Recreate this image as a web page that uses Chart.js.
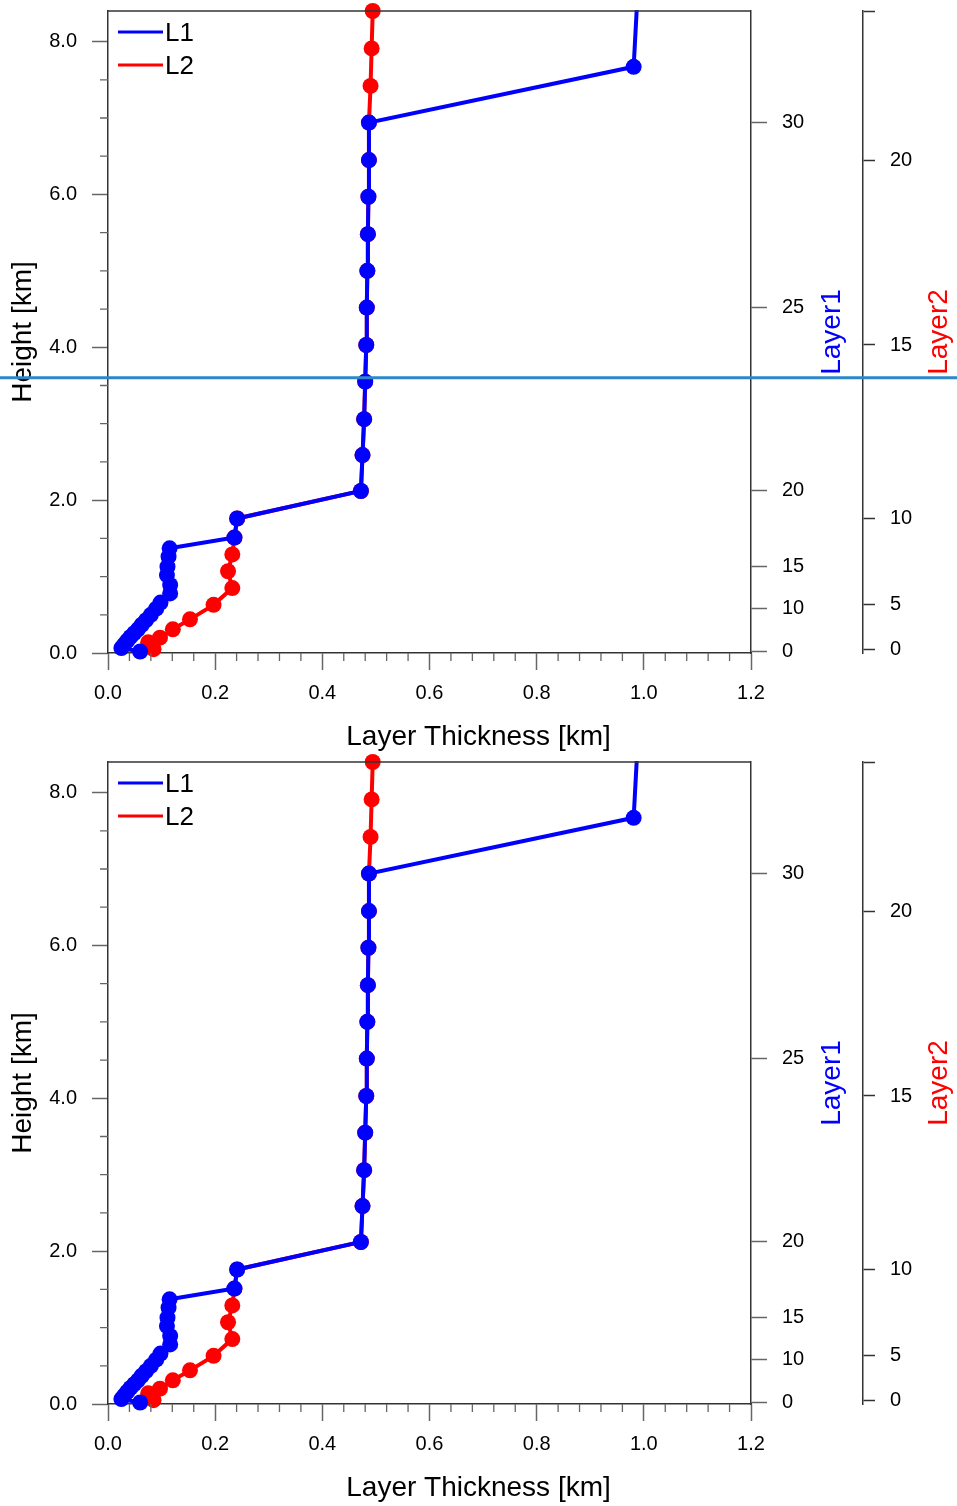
<!DOCTYPE html>
<html>
<head>
<meta charset="utf-8">
<title>Layer thickness profiles</title>
<script src="https://cdn.jsdelivr.net/npm/chart.js@4.4.1/dist/chart.umd.min.js"></script>
<style>
  body { margin: 0; background: #fff; }
  canvas { display: block; }
</style>
</head>
<body>
<canvas id="panelTop" width="957" height="751"></canvas>
<canvas id="panelBottom" width="957" height="751"></canvas>
<script>
// L1: thickness [km] and height [km] of each level, from the surface up
const thick1 = [0.060, 0.025, 0.030, 0.036, 0.042, 0.049, 0.056, 0.063, 0.071, 0.080,
                0.090, 0.098, 0.116, 0.116, 0.110, 0.111, 0.113, 0.115, 0.236, 0.241,
                0.472, 0.475, 0.478, 0.480, 0.482, 0.483, 0.484, 0.485, 0.486, 0.487,
                0.487, 0.981, 0.995];
const height1 = [0.02, 0.065, 0.11, 0.16, 0.21, 0.26, 0.31, 0.37, 0.43, 0.50,
                 0.58, 0.66, 0.78, 0.89, 1.02, 1.13, 1.26, 1.37, 1.51, 1.76,
                 2.12, 2.59, 3.06, 3.55, 4.03, 4.52, 5.00, 5.48, 5.97, 6.45,
                 6.94, 7.67, 9.50];

// L2
const thick2 = [0.085, 0.075, 0.097, 0.121, 0.153, 0.197, 0.232, 0.224, 0.232, 0.236,
                0.241, 0.472, 0.475, 0.478, 0.480, 0.482, 0.483, 0.484, 0.485, 0.486,
                0.487, 0.487, 0.490, 0.492, 0.494];
const height2 = [0.05, 0.14, 0.20, 0.31, 0.44, 0.63, 0.85, 1.07, 1.29, 1.51,
                 1.76, 2.12, 2.59, 3.06, 3.55, 4.03, 4.52, 5.00, 5.48, 5.97,
                 6.45, 6.94, 7.42, 7.91, 8.40];

const thickTicks = [0, 0.2, 0.4, 0.6, 0.8, 1.0, 1.2];
const heightTicks = [0, 2, 4, 6, 8];
const layer1Levels = [0, 10, 15, 20, 25, 30];
const layer2Levels = [0, 5, 10, 15, 20];
const markHeight = [3.6]; // horizontal marker, upper panel only

const FONT = "'Liberation Sans', Arial, Helvetica, sans-serif";
const AXIS = '#333';
const TICK = '#666';

Chart.defaults.font.family = FONT;
Chart.defaults.color = '#000';

const toPoints = (xs, ys) => xs.map((v, i) => ({ x: v, y: ys[i] }));

// fixed box sizes so every panel gets the same plot area; no label overhang padding
const fixWidth = w => s => {
  s.width = w;
  s.paddingTop = 0; s.paddingBottom = 0; s.paddingLeft = 0; s.paddingRight = 0;
};
const fixHeight = h => s => {
  s.height = h;
  s.paddingTop = 0; s.paddingBottom = 0; s.paddingLeft = 0; s.paddingRight = 0;
};

// frame top, minor ticks, legend, layer titles and the marker line
const extras = {
  id: 'extras',
  afterDraw(chart, args, opts) {
    const ctx = chart.ctx;
    const a = chart.chartArea;
    const sx = chart.scales.x, sy = chart.scales.y;
    ctx.save();

    ctx.strokeStyle = AXIS;
    ctx.lineWidth = 1.5;
    ctx.beginPath();
    ctx.moveTo(a.left, a.top);
    ctx.lineTo(a.right, a.top);
    ctx.stroke();

    ctx.strokeStyle = TICK;
    ctx.lineWidth = 1.3;
    ctx.beginPath();
    for (let i = 1; i < 30; i++) {
      if (i % 5 === 0) continue;
      const px = sx.getPixelForValue(i * 0.04);
      ctx.moveTo(px, a.bottom);
      ctx.lineTo(px, a.bottom + 8);
    }
    for (let i = 1; i * 0.5 <= sy.max; i++) {
      if (i % 4 === 0) continue;
      const py = sy.getPixelForValue(i * 0.5);
      ctx.moveTo(a.left, py);
      ctx.lineTo(a.left - 8, py);
    }
    ctx.stroke();

    // legend
    ctx.font = '26px ' + FONT;
    ctx.textAlign = 'left';
    ctx.textBaseline = 'middle';
    chart.data.datasets.forEach((ds, i) => {
      const ly = a.top + 21 + i * 33;
      ctx.strokeStyle = ds.borderColor;
      ctx.lineWidth = 3;
      ctx.beginPath();
      ctx.moveTo(a.left + 10, ly);
      ctx.lineTo(a.left + 55, ly);
      ctx.stroke();
      ctx.fillStyle = '#000';
      ctx.fillText(ds.label, a.left + 57, ly + 2);
    });

    // titles of the two level axes, reading upwards
    const cy = (a.top + a.bottom) / 2;
    const vTitle = (text, color, cx) => {
      ctx.save();
      ctx.translate(cx, cy);
      ctx.rotate(-Math.PI / 2);
      ctx.font = '28px ' + FONT;
      ctx.textAlign = 'center';
      ctx.textBaseline = 'middle';
      ctx.fillStyle = color;
      ctx.fillText(text, 0, 0);
      ctx.restore();
    };
    vTitle('Layer1', '#0000ff', chart.scales.layer1.right - 31);
    vTitle('Layer2', '#ff0000', chart.scales.layer2.right - 18);

    if (opts.marks) {
      ctx.strokeStyle = '#2d87c8';
      ctx.lineWidth = 3;
      opts.marks.forEach(h => {
        const py = sy.getPixelForValue(h);
        ctx.beginPath();
        ctx.moveTo(0, py);
        ctx.lineTo(chart.width, py);
        ctx.stroke();
      });
    }
    ctx.restore();
  }
};

function makeChart(id, marks) {
  const tickFont = { size: 20 };
  return new Chart(document.getElementById(id), {
    type: 'scatter',
    data: {
      datasets: [
        {
          label: 'L1',
          data: toPoints(thick1, height1),
          showLine: true,
          borderColor: '#0000ff',
          backgroundColor: '#0000ff',
          borderWidth: 4,
          pointRadius: 8,
          pointBorderWidth: 0,
          clip: { left: 10, right: 10, top: 1, bottom: 10 }
        },
        {
          label: 'L2',
          data: toPoints(thick2, height2),
          showLine: true,
          borderColor: '#ff0000',
          backgroundColor: '#ff0000',
          borderWidth: 4,
          pointRadius: 8,
          pointBorderWidth: 0,
          clip: false
        }
      ]
    },
    options: {
      responsive: false,
      animation: false,
      events: [],
      layout: { padding: { top: 11, left: 0, right: 0, bottom: 0 } },
      plugins: {
        legend: { display: false },
        tooltip: { enabled: false },
        title: {
          display: true,
          text: 'Layer Thickness [km]',
          position: 'bottom',
          color: '#000',
          font: { size: 28, weight: 'normal', lineHeight: 1 },
          padding: { top: 0, bottom: 0 }
        },
        extras: { marks: marks }
      },
      scales: {
        x: {
          type: 'linear', position: 'bottom', min: 0, max: 1.2, bounds: 'data',
          afterBuildTicks: s => { s.ticks = thickTicks.map(v => ({ value: v })); },
          afterFit: fixHeight(70),
          ticks: { font: tickFont, color: '#000', padding: 11, autoSkip: false, maxRotation: 0,
                   callback: v => v.toFixed(1) },
          grid: { drawOnChartArea: false, tickLength: 17, tickColor: TICK, tickWidth: 1.5 },
          border: { color: AXIS, width: 1.5 }
        },
        y: {
          type: 'linear', position: 'left', min: 0, max: 8.4, bounds: 'data',
          afterBuildTicks: s => { s.ticks = heightTicks.map(v => ({ value: v })); },
          afterFit: fixWidth(108),
          ticks: { font: tickFont, color: '#000', padding: 15, autoSkip: false,
                   callback: v => v.toFixed(1) },
          grid: { drawOnChartArea: false, tickLength: 16, tickColor: TICK, tickWidth: 1.5 },
          border: { color: AXIS, width: 1.5 },
          title: { display: true, text: 'Height [km]', color: '#000',
                   font: { size: 28 }, padding: { top: 6, bottom: 0 } }
        },
        layer1: {
          type: 'linear', axis: 'y', position: 'right', weight: 0, min: 0, max: 8.4, bounds: 'data',
          afterBuildTicks: s => { s.ticks = layer1Levels.map(lv => ({ value: height1[lv] })); },
          afterFit: fixWidth(112),
          ticks: { font: tickFont, color: '#000', padding: 15, autoSkip: false,
                   callback: (v, i) => String(layer1Levels[i]) },
          grid: { drawOnChartArea: false, tickLength: 16, tickColor: TICK, tickWidth: 1.5 },
          border: { color: AXIS, width: 1.5 }
        },
        layer2: {
          type: 'linear', axis: 'y', position: 'right', weight: 1, min: 0, max: 8.4, bounds: 'data',
          afterBuildTicks: s => {
            s.ticks = layer2Levels.map(lv => ({ value: height2[lv] })).concat([{ value: 8.4 }]);
          },
          afterFit: fixWidth(94),
          ticks: { font: tickFont, color: '#000', padding: 15, autoSkip: false,
                   callback: (v, i) => i < layer2Levels.length ? String(layer2Levels[i]) : '' },
          grid: { drawOnChartArea: false, tickLength: 12, tickColor: AXIS, tickWidth: 1.5 },
          border: { color: AXIS, width: 1.5 }
        }
      }
    },
    plugins: [extras]
  });
}

makeChart('panelTop', markHeight);
makeChart('panelBottom', null);
</script>
</body>
</html>
